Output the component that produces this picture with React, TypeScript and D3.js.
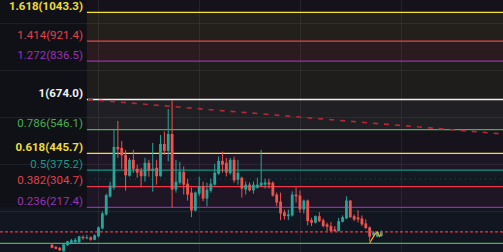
import React, { useRef, useEffect } from 'react';
import * as d3 from 'd3';

// fib retracement anchors
const fibLow = 76.4;
const fibHigh = 674.0;
const fibStartIndex = 9;
const fibRatios = [0.236, 0.382, 0.5, 0.618, 0.786, 1, 1.272, 1.414, 1.618];
const fibColors = ['#9c27b0', '#f23645', '#089981', '#f5e433', '#4caf50', '#f0f0f0', '#9c2fb0', '#e0464e', '#f5e433'];
const fibLabelColors = ['#9c32b4', '#e5414c', '#1e9a86', '#f0dc3c', '#4caf50', '#f2f2f2', '#9c32b4', '#e5414c', '#f0dc3c'];
const fibBold = [false, false, false, true, false, true, false, false, true];
// band above each level (last one runs to the top)
const bandFills = ['#1e1624', '#131923', '#1e1525', '#17131c', '#201f23', '#1f1d1b', '#2c1b1e', '#23201b', '#16121b'];

const supportLevel = 65;
const dottedLevel = 337;
const gridPrices = [200, 400, 600, 800, 1000];
const gridIndexes = [12, 38, 64, 90];

const trendIdx = [9.3, 116.4];
const trendPrice = [674, 528];

const markerIdx = [82, 82.9, 83.5, 84, 84.5, 85];
const markerPrice = [66, 91, 106, 113, 94, 104];

const opens = [
  58.7, 50.3, 46.1, 31.3, 56.6, 65.0, 69.2, 69.2, 92.4, 86.0,
  90.3, 79.7, 94.5, 128.2, 187.1, 262.8, 300.7, 473.3, 469.1, 439.6,
  351.2, 418.5, 380.7, 372.3, 349.1, 405.9, 372.3, 384.9, 349.1, 485.9,
  456.4, 528.0, 292.3, 321.8, 368.1, 317.5, 279.7, 203.9, 275.5, 306.2,
  254.4, 288.1, 313.3, 359.6, 414.3, 405.9, 362.6, 418.5, 334.4, 342.8,
  292.3, 313.3, 289.3, 300.7, 309.1, 313.3, 323.0, 321.8, 271.3, 241.8,
  196.8, 179.9, 182.9, 271.3, 267.0, 208.1, 246.0, 163.1, 152.2, 179.9,
  161.8, 145.0, 137.8, 123.9, 116.8, 156.4, 170.3, 246.0, 179.9, 174.5,
  170.3, 149.2, 132.4, 98.7, 93.2, 95.7,
];
const highs = [
  62.9, 52.4, 48.2, 62.9, 75.5, 83.9, 88.1, 96.6, 98.7, 100.8,
  94.5, 102.9, 136.6, 199.7, 275.5, 326.0, 544.8, 582.7, 498.5, 460.6,
  427.0, 460.6, 397.5, 384.9, 427.0, 418.5, 490.1, 418.5, 523.8, 538.5,
  633.2, 671.1, 418.5, 410.1, 390.4, 338.6, 300.7, 283.9, 347.0, 326.0,
  321.8, 338.6, 401.7, 432.4, 453.5, 427.0, 427.0, 432.4, 418.5, 347.0,
  327.2, 323.0, 327.2, 342.8, 460.6, 338.6, 338.6, 327.2, 279.7, 279.7,
  208.1, 208.1, 285.1, 300.7, 288.1, 250.2, 250.2, 173.2, 182.9, 196.8,
  170.3, 152.2, 154.7, 137.8, 173.2, 182.9, 264.1, 248.1, 187.1, 205.2,
  182.9, 166.0, 136.6, 115.5, 115.5, 119.7,
];
const lows = [
  44.0, 39.7, 33.4, 30.0, 54.5, 62.9, 67.1, 67.1, 79.7, 81.8,
  75.5, 77.6, 90.3, 123.9, 182.9, 258.6, 292.3, 427.0, 380.7, 288.1,
  347.0, 363.8, 342.8, 302.8, 326.0, 347.0, 283.9, 313.3, 347.0, 439.6,
  412.2, 216.6, 279.7, 313.3, 271.3, 246.0, 175.7, 199.7, 264.1, 243.1,
  222.0, 279.7, 309.1, 355.4, 363.8, 348.3, 355.4, 321.8, 313.3, 258.6,
  271.3, 283.9, 275.5, 296.5, 306.2, 296.5, 296.5, 262.8, 222.0, 163.1,
  166.0, 163.1, 178.7, 237.6, 194.2, 191.3, 140.8, 137.8, 149.2, 154.7,
  132.4, 116.8, 113.4, 113.4, 115.5, 153.4, 168.2, 172.4, 158.9, 153.4,
  137.8, 126.1, 74.7, 90.3, 90.3, 92.4,
];
const closes = [
  46.1, 41.9, 35.5, 60.8, 73.4, 77.6, 79.7, 94.5, 86.0, 90.3,
  79.7, 98.7, 132.4, 191.3, 269.2, 309.1, 473.3, 462.8, 437.4, 353.3,
  418.5, 380.7, 363.8, 349.1, 405.9, 372.3, 380.7, 349.1, 485.9, 456.4,
  528.0, 292.3, 326.0, 368.1, 313.3, 271.3, 203.9, 279.7, 306.2, 254.4,
  292.3, 317.5, 363.8, 414.3, 397.5, 365.1, 418.5, 331.4, 363.8, 296.5,
  313.3, 289.3, 313.3, 313.3, 321.8, 323.0, 313.3, 267.0, 237.6, 191.3,
  179.9, 187.1, 271.3, 264.1, 208.1, 246.0, 158.9, 152.2, 179.9, 158.9,
  137.8, 135.3, 116.8, 116.8, 158.9, 175.7, 246.0, 175.7, 166.0, 166.0,
  145.0, 129.4, 93.2, 111.3, 112.6, 113.0,
];

const App = () => {
  const ref = useRef(null);

  useEffect(() => {
    if (!ref.current) return;
    const width = 503;
    const height = 252;
    const svg = d3.select(ref.current);
    svg.selectAll('*').remove();

    const x = d3.scaleLinear().domain([0, closes.length - 1]).range([52, 381.3]);
    const y = d3.scaleLinear().domain([fibLow, fibHigh]).range([240.6, 99.5]);
    const fibPrice = (r) => fibLow + r * (fibHigh - fibLow);
    const fibX = x(fibStartIndex);

    // background
    svg.append('rect').attr('width', width).attr('height', height).attr('fill', '#121620');
    svg.append('rect')
      .attr('x', 0).attr('y', 0)
      .attr('width', fibX).attr('height', y(fibPrice(fibRatios[0])))
      .attr('fill', '#0f1117');

    // fib bands
    fibRatios.forEach((r, i) => {
      const y0 = y(fibPrice(r));
      const y1 = i < fibRatios.length - 1 ? y(fibPrice(fibRatios[i + 1])) : 0;
      svg.append('rect')
        .attr('x', fibX).attr('y', y1)
        .attr('width', width - fibX).attr('height', y0 - y1)
        .attr('fill', bandFills[i]);
    });

    // grid
    const grid = svg.append('g').attr('stroke', 'rgba(130,135,150,0.14)').attr('stroke-width', 1);
    grid.selectAll('line.h').data(gridPrices).enter().append('line')
      .attr('x1', 0).attr('x2', width)
      .attr('y1', d => Math.round(y(d)) + 0.5).attr('y2', d => Math.round(y(d)) + 0.5);
    grid.selectAll('line.v').data(gridIndexes).enter().append('line')
      .attr('y1', 0).attr('y2', height)
      .attr('x1', d => Math.round(x(d)) + 0.5).attr('x2', d => Math.round(x(d)) + 0.5);

    svg.append('line')
      .attr('x1', fibX + 8).attr('x2', width)
      .attr('y1', y(dottedLevel)).attr('y2', y(dottedLevel))
      .attr('stroke', '#3a3f4c').attr('stroke-dasharray', '1,4');

    // fib lines + labels
    fibRatios.forEach((r, i) => {
      const yy = y(fibPrice(r));
      svg.append('line')
        .attr('x1', fibX).attr('x2', width)
        .attr('y1', yy).attr('y2', yy)
        .attr('stroke', fibColors[i]).attr('stroke-width', 1.3);
      svg.append('text')
        .attr('x', 83).attr('y', yy - 2.5)
        .attr('text-anchor', 'end')
        .attr('fill', fibLabelColors[i])
        .style('font-family', 'Roboto, sans-serif')
        .style('font-size', '11.5px')
        .style('font-weight', fibBold[i] ? 'bold' : 'normal')
        .text(`${r}(${fibPrice(r).toFixed(1)})`);
    });

    svg.append('line')
      .attr('x1', 0).attr('x2', width)
      .attr('y1', y(supportLevel)).attr('y2', y(supportLevel))
      .attr('stroke', '#4caf50').attr('stroke-width', 1.3);

    // trend line
    svg.append('line')
      .attr('x1', x(trendIdx[0])).attr('y1', y(trendPrice[0]))
      .attr('x2', x(trendIdx[1])).attr('y2', y(trendPrice[1]))
      .attr('stroke', '#b8283a').attr('stroke-width', 1.6)
      .attr('stroke-dasharray', '5,6');

    // candles
    const idx = d3.range(closes.length);
    const up = '#26a69a';
    const down = '#ef5350';
    const c = svg.append('g');
    c.selectAll('line').data(idx).enter().append('line')
      .attr('x1', i => x(i)).attr('x2', i => x(i))
      .attr('y1', i => y(highs[i])).attr('y2', i => y(lows[i]))
      .attr('stroke', i => (closes[i] >= opens[i] ? up : down))
      .attr('stroke-width', 1);
    c.selectAll('rect').data(idx).enter().append('rect')
      .attr('x', i => x(i) - 1.4)
      .attr('width', 2.8)
      .attr('y', i => y(Math.max(opens[i], closes[i])))
      .attr('height', i => Math.max(1, Math.abs(y(opens[i]) - y(closes[i]))))
      .attr('fill', i => (closes[i] >= opens[i] ? up : down));

    // last price line
    const last = closes[closes.length - 1];
    svg.append('line')
      .attr('x1', 0).attr('x2', width)
      .attr('y1', y(last)).attr('y2', y(last))
      .attr('stroke', '#f23645').attr('stroke-width', 1.2)
      .attr('stroke-dasharray', '3,2');

    // small pattern marker
    const markerLine = d3.line()
      .x(d => x(d[0]))
      .y(d => y(d[1]));
    svg.append('path')
      .attr('d', markerLine(markerIdx.map((v, i) => [v, markerPrice[i]])))
      .attr('fill', 'none')
      .attr('stroke', '#f5a623')
      .attr('stroke-width', 1.2);
  }, []);

  return (
    <svg
      ref={ref}
      width={503}
      height={252}
      style={{ position: 'absolute', left: 0, top: 0, display: 'block' }}
    />
  );
};

export default App;
